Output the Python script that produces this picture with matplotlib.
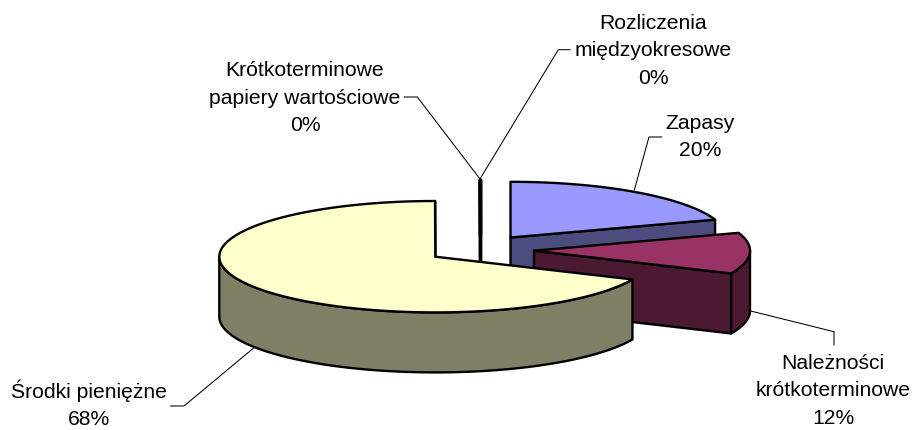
import numpy as np
import matplotlib
matplotlib.use("Agg")
import matplotlib.pyplot as plt
from matplotlib.patches import Polygon

plt.rcParams['font.family'] = ['Liberation Sans', 'DejaVu Sans']

# --- data (percent shares, clockwise from 12 o'clock) ---
categories = ["Zapasy", "Należności\nkrótkoterminowe", "Środki pieniężne",
              "Krótkoterminowe\npapiery wartościowe", "Rozliczenia\nmiędzyokresowe"]
values = [19.8, 11.9, 68.28, 0.01, 0.01]
top_colors = ["#9999FF", "#993366", "#FFFFCC", "#CCFFFF", "#660066"]
side_colors = ["#4C4C7F", "#4C1933", "#7F7F66", "#667F7F", "#330033"]

# --- layout in pixels ---
RX, RY, DEPTH = 216, 55.7, 60
slice_centres = [(510.5, 237.5), (534, 250.7), (435.3, 256.7), (480, 235.5), (481, 235.5)]
draw_order = [3, 4, 0, 1, 2]
label_pos = [(700, 137), (833, 391), (88.7, 404.5), (305, 98), (653, 51)]
leaders = [
    [(661.7, 137), (649, 137), (634.3, 190)],
    [(750.7, 311), (834, 331.7), (834, 345)],
    [(253.3, 348.3), (184, 406), (170.7, 406)],
    [(404.3, 97), (417.3, 97), (480, 179)],
    [(570, 49.7), (558.3, 49.7), (480, 179)],
]

fig = plt.figure(figsize=(9.17, 4.30), dpi=100)
ax = fig.add_axes([0, 0, 1, 1])
ax.set_xlim(0, 917)
ax.set_ylim(430, 0)
ax.axis("off")

fractions = np.array(values) / sum(values)
ends = np.cumsum(fractions) * 2 * np.pi
starts = ends - fractions * 2 * np.pi
LW = 1.7


def rim(c, a, b):
    t = np.linspace(a, b, max(2, int(abs(b - a) * 80)))
    return np.column_stack([c[0] + RX * np.sin(t), c[1] - RY * np.cos(t)])


def poly(pts, fc, z):
    ax.add_patch(Polygon(pts, closed=True, fc=fc, ec="black", lw=LW, joinstyle="round", zorder=z))


for k, i in enumerate(draw_order):
    c, a, b = slice_centres[i], starts[i], ends[i]
    z = 2 + k
    down = np.array([0, DEPTH])
    apex = np.array(c)
    # radial wall at the clockwise end, visible when it faces the viewer
    tip_b = rim(c, b, b)[0]
    if b < np.pi or b > 1.99 * np.pi:
        poly([apex, tip_b, tip_b + down, apex + down], side_colors[i], z)
    # curved outer wall, only the part on the near side
    lo, hi = max(a, np.pi / 2), min(b, 3 * np.pi / 2)
    if hi > lo:
        arc = rim(c, lo, hi)
        poly(np.vstack([arc, (arc + down)[::-1]]), side_colors[i], z)
    # top surface
    poly(np.vstack([[apex], rim(c, a, b)]), top_colors[i], z)

for pts in leaders:
    xs, ys = zip(*pts)
    ax.plot(xs, ys, color="black", lw=0.75, zorder=20, solid_joinstyle="miter")

for i, (x, y) in enumerate(label_pos):
    txt = f"{categories[i]}\n{round(values[i])}%"
    ax.text(x, y, txt, ha="center", va="center", fontsize=15.2, color="black",
            linespacing=1.56, zorder=21, multialignment="center")

fig.savefig("out.png", dpi=100, facecolor="white")
